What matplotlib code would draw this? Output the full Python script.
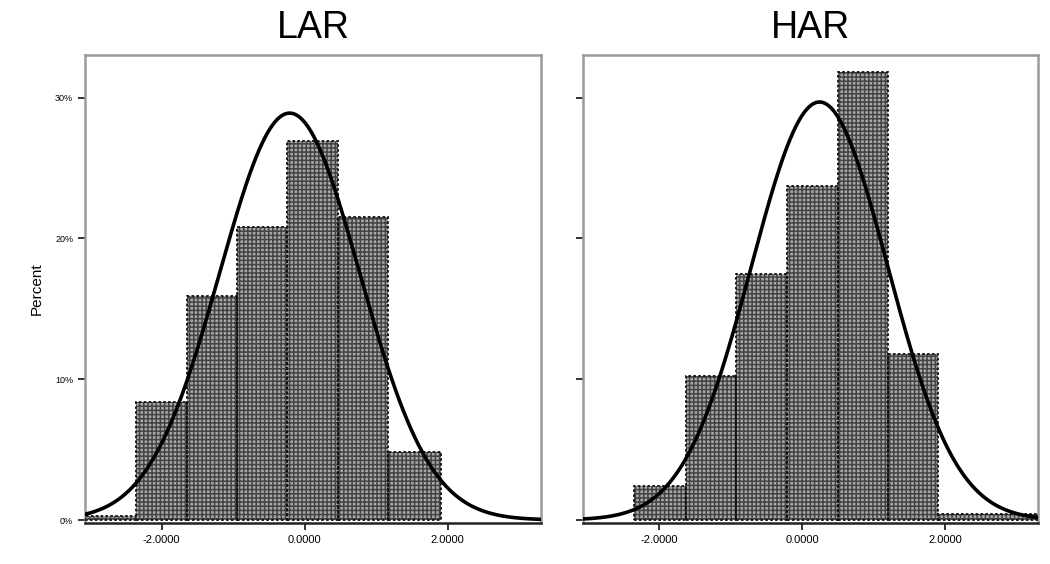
import numpy as np
import matplotlib
matplotlib.use("Agg")
import matplotlib.pyplot as plt

plt.rcParams['font.family'] = ['Liberation Sans', 'DejaVu Sans']
plt.rcParams['hatch.linewidth'] = 1.1

# bin edges (z-scores) and percent per bin
lar_edges = [-3.07, -2.36, -1.65, -0.95, -0.25, 0.46, 1.17, 1.90]
lar_pct = [0.3, 8.4, 15.9, 20.8, 26.9, 21.5, 4.8]
har_edges = [-2.36, -1.63, -0.93, -0.21, 0.50, 1.19, 1.89, 3.30]
har_pct = [2.4, 10.2, 17.5, 23.7, 31.8, 11.8, 0.4]

# fitted normal curve parameters (mean, sd) for each group
lar_fit = (-0.21, 0.98)
har_fit = (0.24, 0.954)
bin_width = 0.71

titles = ["LAR", "HAR"]
xticks = [-2, 0, 2]
xticklabels = ["-2.0000", "0.0000", "2.0000"]
yticks = [0, 10, 20, 30]
yticklabels = ["0%", "10%", "20%", "30%"]

fig = plt.figure(figsize=(10.5, 5.64), dpi=100)
ax1 = fig.add_axes([0.081, 0.073, 0.434, 0.830])
ax2 = fig.add_axes([0.555, 0.073, 0.434, 0.830])

panels = [(ax1, lar_edges, lar_pct, lar_fit), (ax2, har_edges, har_pct, har_fit)]
for i, (ax, edges, pct, fit) in enumerate(panels):
    edges = np.array(edges)
    widths = np.diff(edges)
    ax.bar(edges[:-1], pct, width=widths, align='edge', color='#a8a8a8',
           hatch='++++', edgecolor='#444444', linewidth=0, zorder=2)
    ax.bar(edges[:-1], pct, width=widths, align='edge', fill=False,
           edgecolor='#111111', linewidth=1.3, linestyle=(0, (1.5, 1.2)), zorder=3)

    m, s = fit
    xs = np.linspace(-3.07, 3.3, 400)
    ys = 100 * bin_width / (s * np.sqrt(2 * np.pi)) * np.exp(-0.5 * ((xs - m) / s) ** 2)
    ax.plot(xs, ys, color='black', linewidth=2.6, zorder=4)

    ax.set_xlim(-3.07, 3.3)
    ax.set_ylim(-0.2, 33.05)
    ax.set_xticks(xticks)
    ax.set_xticklabels(xticklabels, fontsize=8)
    ax.set_yticks(yticks)
    if i == 0:
        ax.set_yticklabels(yticklabels, fontsize=6.5)
        ax.set_ylabel("Percent", fontsize=11, labelpad=8)
    else:
        ax.set_yticklabels([])
    ax.tick_params(axis='both', direction='out', length=5, width=1.4, color='#333333')
    for sp in ax.spines.values():
        sp.set_color('#9a9a9a')
        sp.set_linewidth(1.8)
    ax.spines['bottom'].set_color('#222222')
    ax.set_title(titles[i], fontsize=27, pad=12)

fig.savefig("out.png", dpi=100)
